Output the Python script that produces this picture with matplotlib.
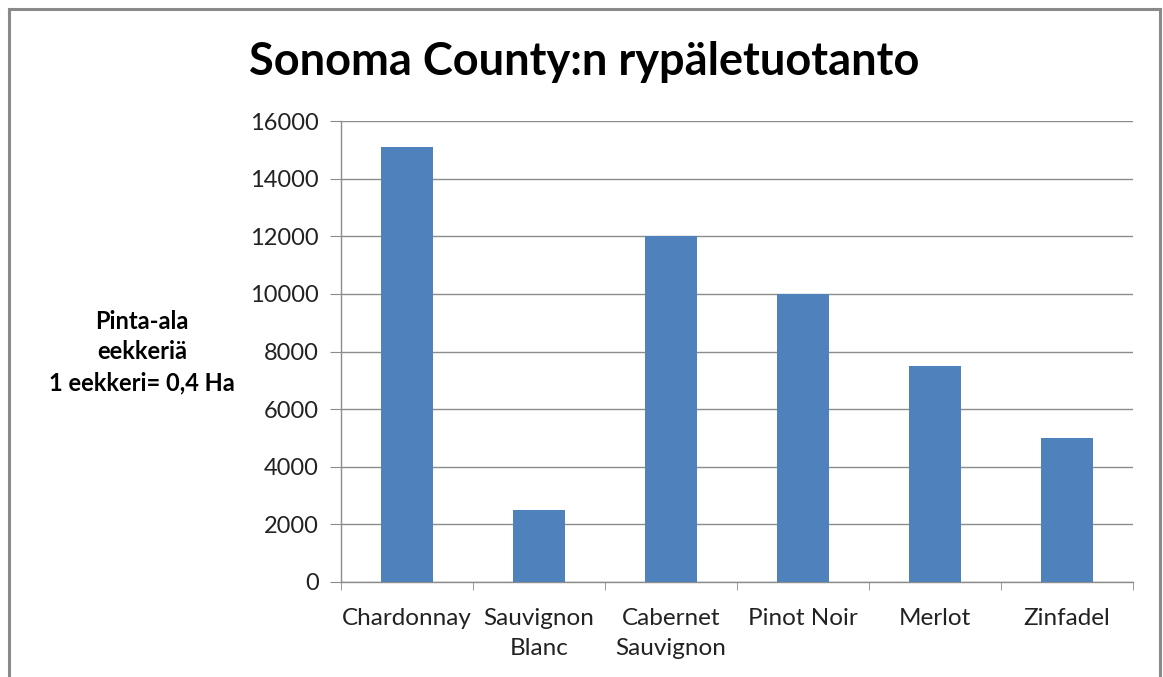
import matplotlib.pyplot as plt
from matplotlib.lines import Line2D

# Grape acreage by variety, Sonoma County
varieties = ["Chardonnay", "Sauvignon\nBlanc", "Cabernet\nSauvignon", "Pinot Noir", "Merlot", "Zinfadel"]
acres = [15100, 2500, 12000, 10000, 7500, 5000]
yticks = [0, 2000, 4000, 6000, 8000, 10000, 12000, 14000, 16000]

plt.rcParams["font.family"] = ["Lato", "DejaVu Sans"]

fig = plt.figure(figsize=(11.63, 6.77), dpi=100)
ax = fig.add_axes([341 / 1163, 95 / 677, 792 / 1163, 461 / 677])

ax.bar(range(len(acres)), acres, width=0.4, color="#4F81BD", zorder=3)

ax.set_xlim(-0.5, len(acres) - 0.5)
ax.set_ylim(0, 16000)
ax.set_yticks(yticks)
ax.set_yticklabels([str(t) for t in yticks], fontsize=17, color="#222222")
ax.yaxis.grid(True, color="#8C8C8C", linewidth=1, zorder=0)

ax.set_xticks(range(len(acres)))
ax.set_xticklabels(varieties, fontsize=17.5, color="#222222", linespacing=1.5)
ax.set_xticks([i - 0.5 for i in range(len(acres) + 1)], minor=True)
ax.tick_params(axis="x", which="major", length=0, pad=19)
ax.tick_params(axis="x", which="minor", length=6, color="#8C8C8C", direction="out")
ax.tick_params(axis="y", length=8, color="#8C8C8C", direction="out", pad=8)

for side in ["top", "right"]:
    ax.spines[side].set_visible(False)
for side in ["left", "bottom"]:
    ax.spines[side].set_color("#8C8C8C")
    ax.spines[side].set_linewidth(1)

fig.text(584 / 1163, 1 - 62 / 677, "Sonoma County:n rypäletuotanto",
         fontsize=32.5, fontweight="bold", ha="center", va="center")
fig.text(142 / 1163, 1 - 352 / 677, "Pinta-ala\neekkeriä\n1 eekkeri= 0,4 Ha",
         fontsize=17, fontweight="bold", ha="center", va="center", linespacing=1.4)

# outer chart border (left, top, right)
W, H = 1163, 677
border = dict(color="#8A8A8A", linewidth=2.2, transform=fig.transFigure)
fig.add_artist(Line2D([8.5 / W, 8.5 / W], [0, 1 - 8.5 / H], **border))
fig.add_artist(Line2D([8.5 / W, 1160 / W], [1 - 8.5 / H, 1 - 8.5 / H], **border))
fig.add_artist(Line2D([1160 / W, 1160 / W], [0, 1 - 8.5 / H], **border))

fig.savefig("out.png", dpi=100, facecolor="white")
